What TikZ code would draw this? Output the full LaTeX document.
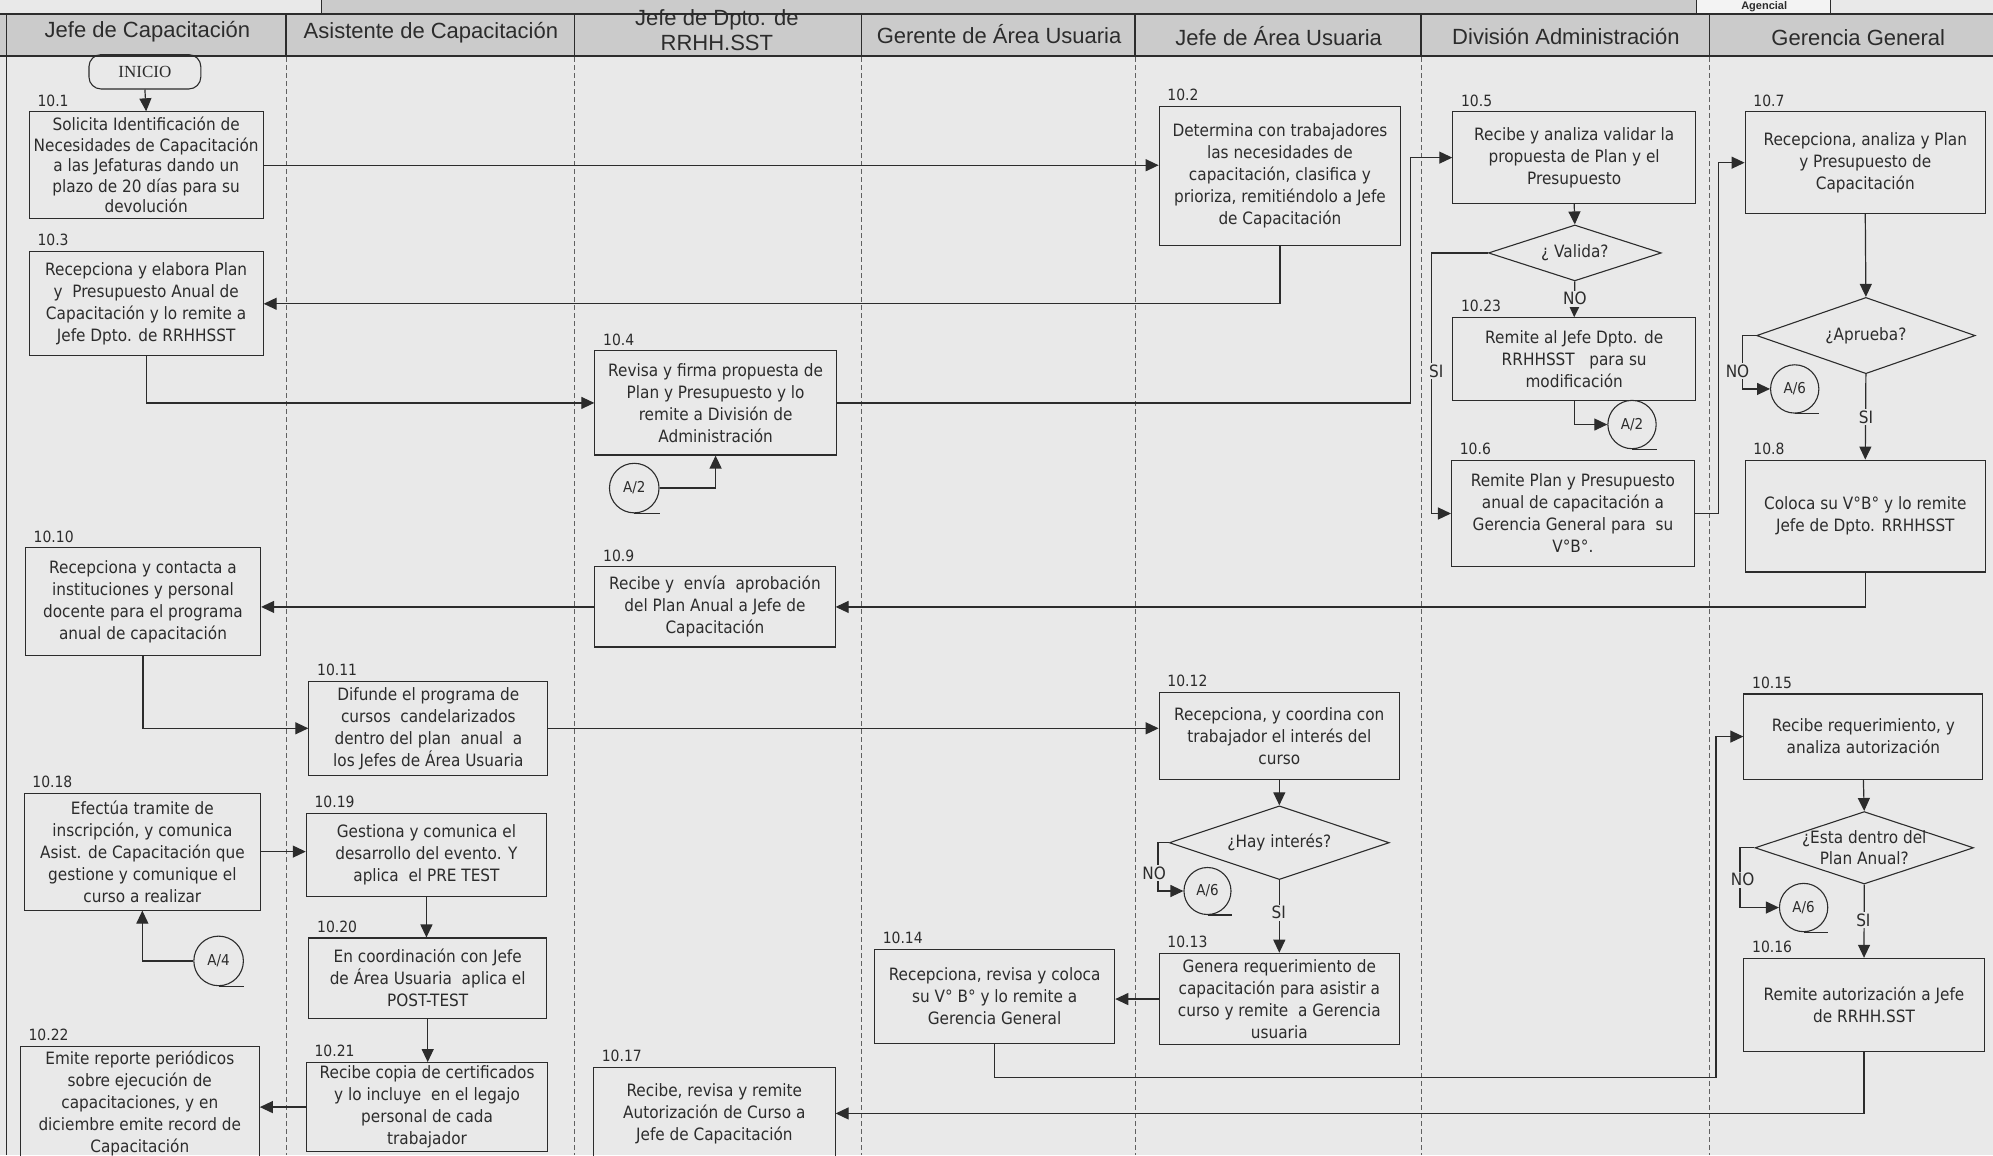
\documentclass[tikz,border=0pt]{standalone}
\usepackage{fontspec}
\setmainfont{DejaVu Sans}[FakeStretch=0.9]
\newfontfamily\hdrfont{Liberation Sans}
\newfontfamily\termfont{Liberation Serif}
\usetikzlibrary{arrows.meta,calc,shapes.geometric}

\definecolor{pagebg}{RGB}{233,233,233}
\definecolor{hdrfill}{RGB}{203,203,203}
\definecolor{cellfill}{RGB}{243,243,243}
\definecolor{ink}{RGB}{44,44,44}

\tikzset{
  plain/.style={draw=ink, line width=1.2pt},
  flow/.style={draw=ink, line width=1.2pt, -{Triangle[length=13pt,width=12pt]}},
  lane/.style={draw=ink!75, line width=0.9pt, dash pattern=on 5pt off 3pt},
  stepbox/.style 2 args={rectangle, draw=ink, line width=1.1pt, inner sep=0pt,
    align=center, text=ink, minimum width=#1*1.271pt, minimum height=#2*1.271pt,
    font=\fontsize{17}{22}\selectfont},
  decision/.style 2 args={diamond, draw=ink, line width=1.1pt, inner sep=0pt,
    minimum width=#1*1.271pt, minimum height=#2*1.271pt},
  dtext/.style={align=center, text=ink, inner sep=0pt, font=\fontsize{17}{21}\selectfont},
  num/.style={anchor=south west, inner sep=1pt, text=ink, font=\fontsize{15.5}{15.5}\selectfont},
  conn/.style={circle, draw=ink, line width=1.1pt, inner sep=0pt,
    minimum size=39*1.271pt, text=ink, font=\fontsize{15}{15}\selectfont},
  answer/.style={fill=pagebg, inner sep=1.5pt, text=ink, font=\fontsize{17}{17}\selectfont},
  hdrtext/.style={align=center, text=ink, inner sep=0pt, font=\hdrfont\fontsize{22}{25}\selectfont},
  terminal/.style={rectangle, rounded corners=12pt, draw=ink, line width=1.1pt,
    minimum width=88*1.271pt, minimum height=27*1.271pt, inner sep=0pt, text=ink,
    font=\termfont\fontsize{17}{17}\selectfont}
}

\begin{document}
\begin{tikzpicture}[x=1.271pt, y=-1.271pt]
\useasboundingbox (0,0) rectangle (1568,909);
\fill[pagebg] (0,0) rectangle (1568,909);

% strip above the lane headers
\fill[hdrfill] (253,0) rectangle (1335,11);
\draw[plain] (253,0) -- (253,11);
\fill[cellfill] (1335,0) rectangle (1440,11);
\draw[plain] (1335,0) -- (1335,11) (1440,0) -- (1440,11);
\node[hdrtext, font=\hdrfont\bfseries\fontsize{11}{11}\selectfont] (topcell) at (1388,5.5) {Agencial};

% lane header row
\fill[hdrfill] (0,11) rectangle (1568,44);
\draw[ink, line width=2pt] (0,11) -- (1568,11);
\foreach \x in {5,225,452,678,893,1118,1345} \draw[plain] (\x,11) -- (\x,44);
\draw[ink, line width=2.4pt] (0,44) -- (1568,44);
\draw[plain] (5,44) -- (5,909);
\foreach \x in {225,452,678,893,1118,1345} \draw[lane] (\x,45) -- (\x,909);

\node[hdrtext] (h1) at (116,25) {Jefe de Capacitación};
\node[hdrtext] (h2) at (339,26) {Asistente de Capacitación};
\node[hdrtext] (h3) at (564,24) {Jefe de Dpto. de\\RRHH.SST};
\node[hdrtext] (h4) at (786,27) {Gerente de Área Usuaria};
\node[hdrtext] (h5) at (1006,28) {Jefe de Área Usuaria};
\node[hdrtext] (h6) at (1232,29) {División Administración};
\node[hdrtext] (h7) at (1462,30) {Gerencia General};

% ---- Jefe de Capacitación
\node[terminal] (start) at (114,56.5) {INICIO};
\node[stepbox={184}{84}, font=\fontsize{17}{20.5}\selectfont] (b1) at (115,130)
  {Solicita Identificación de\\Necesidades de Capacitación\\a las Jefaturas dando un\\plazo de 20 días para su\\devolución};
\node[stepbox={184}{82}] (b3) at (115,239)
  {Recepciona y elabora Plan\\y\ \ Presupuesto Anual de\\Capacitación y lo remite a\\Jefe Dpto. de RRHHSST};
\node[stepbox={185}{85}] (b10) at (112.5,473.5)
  {Recepciona y contacta a\\instituciones y personal\\docente para el programa\\anual de capacitación};
\node[stepbox={186}{92}] (b18) at (112,670)
  {Efectúa tramite de\\inscripción, y comunica\\Asist. de Capacitación que\\gestione y comunique el\\curso a realizar};
\node[conn] (cA4) at (172,756) {A/4};
\node[stepbox={188}{90}] (b22) at (110,868)
  {Emite reporte periódicos\\sobre ejecución de\\capacitaciones, y en\\diciembre emite record de\\Capacitación};

% ---- Asistente de Capacitación
\node[stepbox={188}{74}] (b11) at (337,573)
  {Difunde el programa de\\cursos\ \ candelarizados\\dentro del plan\ \ anual\ \ a\\los Jefes de Área Usuaria};
\node[stepbox={189}{65}] (b19) at (335.5,672.5)
  {Gestiona y comunica el\\desarrollo del evento. Y\\aplica\ \ el PRE TEST};
\node[stepbox={187}{63}] (b20) at (336.5,769.5)
  {En coordinación con Jefe\\de Área Usuaria\ \ aplica el\\POST-TEST};
\node[stepbox={190}{70}] (b21) at (336,871)
  {Recibe copia de certificados\\y lo incluye\ \ en el legajo\\personal de cada\\trabajador};

% ---- Jefe de Dpto. de RRHH.SST
\node[stepbox={190}{82}] (b4) at (563,317)
  {Revisa y firma propuesta de\\Plan y Presupuesto y lo\\remite a División de\\Administración};
\node[conn] (cA2a) at (499,384) {A/2};
\node[stepbox={189}{63}] (b9) at (562.5,477.5)
  {Recibe y\ \ envía\ \ aprobación\\del Plan Anual a Jefe de\\Capacitación};
\node[stepbox={190}{72}] (b17) at (562,876)
  {Recibe, revisa y remite\\Autorización de Curso a\\Jefe de Capacitación};

% ---- Gerente de Área Usuaria
\node[stepbox={189}{74}] (b14) at (782.5,784)
  {Recepciona, revisa y coloca\\su V° B° y lo remite a\\Gerencia General};

% ---- Jefe de Área Usuaria
\node[stepbox={190}{109}] (b2) at (1007,138.5)
  {Determina con trabajadores\\las necesidades de\\capacitación, clasifica y\\prioriza, remitiéndolo a Jefe\\de Capacitación};
\node[stepbox={189}{68}] (b12) at (1006.5,579)
  {Recepciona, y coordina con\\trabajador el interés del\\curso};
\node[decision={173}{58}] (dh) at (1006.5,663) {};
\node[dtext] (dht) at (dh.center) {¿Hay interés?};
\node[conn, minimum size=37*1.271pt] (cA6b) at (950,701) {A/6};
\node[stepbox={189}{72}] (b13) at (1006.5,786)
  {Genera requerimiento de\\capacitación para asistir a\\curso y remite\ \ a Gerencia\\usuaria};

% ---- División Administración
\node[stepbox={191}{72}] (b5) at (1238.5,124)
  {Recibe y analiza validar la\\propuesta de Plan y el\\Presupuesto};
\node[decision={136}{44}] (dv) at (1239,199) {};
\node[dtext] (dvt) at (dv.center) {¿ Valida?};
\node[stepbox={191}{65}] (b23) at (1238.5,282.5)
  {Remite al Jefe Dpto. de\\RRHHSST\ \ \ para su\\modificación};
\node[conn, minimum size=38*1.271pt] (cA2b) at (1284,334) {A/2};
\node[stepbox={191}{84}] (b6) at (1237.5,404)
  {Remite Plan y Presupuesto\\anual de capacitación a\\Gerencia General para\ \ su\\V°B°.};

% ---- Gerencia General
\node[stepbox={189}{80}] (b7) at (1467.5,128)
  {Recepciona, analiza y Plan\\y Presupuesto de\\Capacitación};
\node[decision={172}{60}] (da) at (1468,264) {};
\node[dtext] (dat) at (da.center) {¿Aprueba?};
\node[conn, minimum size=38*1.271pt] (cA6a) at (1412,306) {A/6};
\node[stepbox={189}{88}] (b8) at (1467.5,406)
  {Coloca su V°B° y lo remite\\Jefe de Dpto. RRHHSST};
\node[stepbox={188}{67}] (b15) at (1466,579.5)
  {Recibe requerimiento, y\\analiza autorización};
\node[decision={172}{57}] (de) at (1466.7,667) {};
\node[dtext] (det) at (de.center) {¿Esta dentro del\\Plan Anual?};
\node[conn, minimum size=38*1.271pt] (cA6c) at (1419,714) {A/6};
\node[stepbox={189}{73}] (b16) at (1466.5,790.5)
  {Remite autorización a Jefe\\de RRHH.SST};

% step numbers
\foreach \b/\t in {b1/10.1, b3/10.3, b10/10.10, b18/10.18, b22/10.22,
                   b11/10.11, b19/10.19, b20/10.20, b21/10.21,
                   b4/10.4, b9/10.9, b17/10.17, b14/10.14,
                   b2/10.2, b12/10.12, b13/10.13,
                   b5/10.5, b23/10.23, b6/10.6,
                   b7/10.7, b8/10.8, b15/10.15, b16/10.16}
  \node[num] (n\b) at ($(\b.north west)+(6,-3)$) {\t};

% off-page connector tails
\foreach \c in {cA4, cA2a, cA6b, cA2b, cA6a, cA6c}
  \draw[plain] (\c.south) -- (\c.south -| \c.east);

% junction columns
\coordinate (j45) at (1110,0);
\coordinate (jsi) at (1126,0);
\coordinate (j67) at (1352,0);
\coordinate (jnoa) at (1371,0);
\coordinate (jnoh) at (911,0);
\coordinate (jnoe) at (1369,0);
\coordinate (j1415) at (1350,848);

% flow
\draw[flow] (start.south) -- (b1.north);
\draw[flow] (b1.east) -- (b1.east -| b2.west);
\draw[flow] (b2.south) |- (b3.east);
\draw[flow] (b3.south) |- (b4.west);
\draw[flow] (cA2a.east) -| (b4.south);
\draw[flow] (b4.east) -- (b4.east -| j45) |- (b5.west);
\draw[flow] (b5.south) -- (dv.north);
\draw[flow] (dv.south) -- (b23.north);
\draw[flow] (b23.south) |- (cA2b.west);
\draw[flow] (dv.west) -- (dv.west -| jsi) |- (b6.west);
\draw[flow] (b6.east) -- (b6.east -| j67) |- (b7.west);
\draw[flow] (b7.south) -- (da.north);
\draw[flow] (da.west) -- (da.west -| jnoa) |- (cA6a.west);
\draw[flow] (da.south) -- (b8.north);
\draw[flow] (b8.south) |- (b9.east);
\draw[flow] (b9.west) -- (b9.west -| b10.east);
\draw[flow] (b10.south) |- (b11.west);
\draw[flow] (b11.east) -- (b11.east -| b12.west);
\draw[flow] (b12.south) -- (dh.north);
\draw[flow] (dh.west) -- (dh.west -| jnoh) |- (cA6b.west);
\draw[flow] (dh.south) -- (b13.north);
\draw[flow] (b13.west) -- (b13.west -| b14.east);
\draw[flow] (b14.south) |- (j1415) |- (b15.west);
\draw[flow] (b15.south) -- (de.north);
\draw[flow] (de.west) -- (de.west -| jnoe) |- (cA6c.west);
\draw[flow] (de.south) -- (b16.north);
\draw[flow] (b16.south) |- (b17.east);
\draw[flow] (b18.east) -- (b18.east -| b19.west);
\draw[flow] (cA4.west) -| (b18.south);
\draw[flow] (b19.south) -- (b19.south |- b20.north);
\draw[flow] (b20.south) -- (b20.south |- b21.north);
\draw[flow] (b21.west) -- (b21.west -| b22.east);

% decision answers
\node[answer] (avno) at (1239,235) {NO};
\node[answer] (avsi) at (1130,292) {SI};
\node[answer] (aano) at (1367,292) {NO};
\node[answer] (aasi) at (1468,328) {SI};
\node[answer] (ahno) at (908,687) {NO};
\node[answer] (ahsi) at (1006,718) {SI};
\node[answer] (aeno) at (1371,692) {NO};
\node[answer] (aesi) at (1466,724) {SI};
\end{tikzpicture}
\end{document}
